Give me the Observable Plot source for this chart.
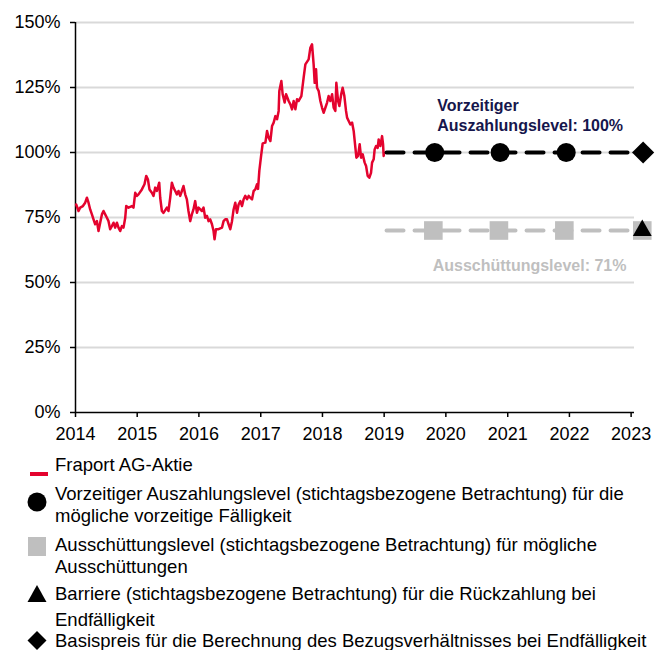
<!DOCTYPE html>
<html><head><meta charset="utf-8">
<script src="https://cdn.jsdelivr.net/npm/d3@7"></script>
<script src="https://cdn.jsdelivr.net/npm/@observablehq/plot@0.6"></script>
<style>
body{margin:0;background:#fff;font-family:"Liberation Sans",Arial,sans-serif;}
#legend{position:relative;width:666px;height:204px;font-size:18.5px;color:#000;}
.item{position:absolute;left:55px;line-height:22px;white-space:nowrap}
.icon{position:absolute;left:27px}
</style></head><body>
<div id="chart"></div>
<div id="legend"></div>
<script>
// Fraport AG share, relative level (%); time as decimal year
const stockYears = [2014.011,2014.049,2014.076,2014.120,2014.157,2014.185,2014.211,2014.238,2014.266,2014.292,2014.319,2014.347,2014.373,2014.400,2014.428,2014.454,2014.481,2014.509,2014.535,2014.562,2014.590,2014.616,2014.643,2014.671,2014.697,2014.724,2014.752,2014.778,2014.806,2014.822,2014.859,2014.914,2014.940,2014.968,2014.995,
2015.021,2015.076,2015.118,2015.146,2015.173,2015.199,2015.238,2015.264,2015.292,2015.319,2015.357,2015.373,2015.400,2015.426,2015.481,2015.507,2015.535,2015.562,2015.588,2015.616,2015.643,2015.669,2015.697,2015.724,2015.750,2015.778,2015.805,2015.831,2015.859,2015.886,2015.912,2015.940,2015.968,2015.994,
2016.049,2016.075,2016.102,2016.130,2016.156,2016.183,2016.211,2016.237,2016.253,2016.276,2016.318,2016.373,2016.399,2016.426,2016.454,2016.480,2016.507,2016.535,2016.561,2016.588,2016.616,2016.642,2016.670,2016.697,2016.723,2016.750,2016.778,2016.804,2016.831,2016.859,2016.885,2016.912,2016.940,2016.956,2016.977,
2017.002,2017.031,2017.075,2017.102,2017.128,2017.156,2017.183,2017.209,2017.237,2017.264,2017.290,2017.301,2017.334,2017.355,2017.387,2017.410,2017.452,2017.480,2017.507,2017.533,2017.561,2017.588,2017.614,2017.658,2017.695,2017.723,2017.776,2017.804,2017.831,2017.857,2017.874,2017.896,2017.912,2017.938,2017.966,2017.994,
2018.019,2018.047,2018.075,2018.100,2018.128,2018.156,2018.182,2018.209,2018.225,2018.253,2018.274,2018.306,2018.327,2018.355,2018.382,2018.399,2018.425,2018.452,2018.480,2018.506,2018.534,2018.550,2018.577,2018.603,2018.626,2018.652,2018.684,2018.707,2018.733,2018.760,2018.787,2018.804,2018.830,2018.846,2018.869,2018.895,2018.911,2018.938,2018.966,2018.982,2018.992,2018.998];
const stockValues = [80,77.5,78.8,79.4,80.7,82.6,80.7,78.1,76.2,74.3,72.4,73.6,69.8,73,76.2,77.5,76.2,74.9,73.6,70.5,71.7,73,71.1,73,71.1,69.8,71.7,71.1,74.9,79.4,78.8,79.4,78.8,84.5,83.3,
83.9,85.8,87.8,91,89.7,85.8,84.5,83.3,86.5,85.2,88.4,82.6,77.5,76.8,78.8,77.5,82.6,88.4,86.5,85.2,83.9,85.2,83.3,85.2,87.1,83.9,82,77.5,73.6,76.2,78.1,81.3,76.8,78.8,
77.5,78.8,74.9,75.6,73.6,74.3,72.4,69.8,66.6,70.5,70.5,71.1,73.6,74.3,74.3,72.4,70.5,73.6,78.1,80.7,76.8,80,81.3,79.4,82,83.3,82,83.3,82.6,82,85.2,85.8,87.8,86,93,
98,103.5,103.8,108.3,105.7,104.4,110.2,111.5,114,112.8,116,123.7,127.5,122.4,119.2,122.4,119.8,118.5,116.6,119.8,116.6,120.5,119.8,121.7,128.8,133.9,135.8,140.3,141.6,133.9,126.8,132,124.9,123.7,119.8,117.2,
115.3,117.2,119.2,121.7,119.8,122.4,117.2,116,126.8,119.8,117.9,122.7,124.9,121.7,116,113.4,112.1,110.8,111.5,108.3,101.8,98,98.7,103.2,98,99.3,96.1,94.8,91,90.3,92.2,96.1,97.4,101.2,102.5,101.8,105,102.5,106.3,103.2,98.7,99.9];

// Levels
const levelStart = "2019-01-15";
const finalDate = "2023-03-13";
const callLevel = 100;     // Vorzeitiger Auszahlungslevel
const payoutLevel = 70;    // Ausschüttungslevel (71 %)
const barrierLevel = 70;   // Barriere
const strikeLevel = 100;   // Basispreis
const callDates = ["2019-10-27","2020-11-17","2021-12-13"];
const payoutDates = ["2019-10-19","2020-11-10","2021-12-02","2023-03-08"];
const barrierDates = ["2023-03-08"];

const yearTicks = ["2014","2015","2016","2017","2018","2019","2020","2021","2022","2023"];
const yTicks = [0,25,50,75,100,125,150];

const labels = [
  {text:"Vorzeitiger\nAuszahlungslevel: 100%", date:"2019-11-11", value:114.5, color:"#16164c"},
  {text:"Ausschüttungslevel: 71%", date:"2019-10-15", value:57, color:"#bfbfbf"}
];

const legendItems = [
  "Fraport AG-Aktie",
  "Vorzeitiger Auszahlungslevel (stichtagsbezogene Betrachtung) für die|mögliche vorzeitige Fälligkeit",
  "Ausschüttungslevel (stichtagsbezogene Betrachtung) für mögliche|Ausschüttungen",
  "Barriere (stichtagsbezogene Betrachtung) für die Rückzahlung bei|Endfälligkeit",
  "Basispreis für die Berechnung des Bezugsverhältnisses bei Endfälligkeit"
];

const D = s => new Date(s + (s.length === 4 ? "-01-01" : "") + "T00:00:00Z");
const fromYear = t => {
  const y = Math.floor(t), a = Date.UTC(y,0,1), b = Date.UTC(y+1,0,1);
  return new Date(a + (t - y) * (b - a));
};
const stock = stockYears.map((t,i) => ({date: fromYear(t), value: stockValues[i]}));
const callLine = [{date:D(levelStart), value:callLevel},{date:D(finalDate), value:callLevel}];
const payoutLine = [{date:D(levelStart), value:payoutLevel},{date:D(barrierDates[0]), value:payoutLevel}];
const calls = callDates.map(d => ({date:D(d), value:callLevel}));
const payouts = payoutDates.map(d => ({date:D(d), value:payoutLevel}));
const barriers = barrierDates.map(d => ({date:D(d), value:barrierLevel}));
const strikes = [{date:D(finalDate), value:strikeLevel}];
const labelData = labels.map(l => ({...l, date:D(l.date)}));

const RED = "#e4032e", GRAY = "#bfbfbf";

const chart = Plot.plot({
  width: 666, height: 446,
  marginLeft: 75, marginRight: 32, marginTop: 22, marginBottom: 34,
  style: {fontFamily:'"Liberation Sans", Arial, sans-serif', fontSize:"18px", color:"#000", background:"#fff", overflow:"visible"},
  x: {type:"utc", domain:[D("2014"), D("2023-01-21")], label:null},
  y: {domain:[0,150], label:null},
  marks: [
    Plot.gridY(yTicks.filter(d => d > 0), {stroke:"#d9d9d9", strokeOpacity:1, strokeWidth:2}),
    Plot.axisY({ticks:yTicks, tickFormat:d => d + "%", tickSize:5, tickPadding:10, fontSize:18, strokeWidth:1.5, label:null}),
    Plot.axisX({ticks:yearTicks.map(D), tickFormat:d3.utcFormat("%Y"), tickSize:5, tickPadding:10, fontSize:18, strokeWidth:1.5, label:null}),
    Plot.ruleX([D("2014")], {y1:0, y2:150, stroke:"#000", strokeWidth:1.5}),
    Plot.ruleY([0], {stroke:"#000", strokeWidth:1.5}),
    Plot.line(stock, {x:"date", y:"value", stroke:RED, strokeWidth:2.5}),
    Plot.line(payoutLine, {x:"date", y:"value", stroke:GRAY, strokeWidth:4, strokeDasharray:"17,11"}),
    Plot.line(callLine, {x:"date", y:"value", stroke:"#000", strokeWidth:4, strokeDasharray:"17,11"}),
    Plot.dot(payouts, {x:"date", y:"value", symbol:"square", r:10.5, fill:GRAY}),
    Plot.dot(barriers, {x:"date", y:"value", symbol:"triangle", r:7, fill:"#000"}),
    Plot.dot(calls, {x:"date", y:"value", symbol:"circle", r:9.5, fill:"#000"}),
    Plot.dot(strikes, {x:"date", y:"value", symbol:"diamond2", r:10, fill:"#000"}),
    Plot.text(labelData, {x:"date", y:"value", text:"text", fill:"color", textAnchor:"start", lineAnchor:"middle", lineHeight:1.25, fontSize:16, fontWeight:"bold"})
  ]
});
document.getElementById("chart").appendChild(chart);

// Legend (HTML below the chart)
const icons = [
  {top:14, svg:'<svg width="22" height="5"><rect x="3" y="0" width="18" height="4" fill="'+RED+'"/></svg>'},
  {top:45, svg:'<svg width="22" height="22"><circle cx="10" cy="11" r="9.5" fill="#000"/></svg>'},
  {top:91, svg:'<svg width="22" height="22"><rect x="1" y="0" width="18" height="19" fill="'+GRAY+'"/></svg>'},
  {top:139, svg:'<svg width="22" height="20"><path d="M10,0 L19.5,17 L0.5,17 Z" fill="#000"/></svg>'},
  {top:185, svg:'<svg width="22" height="20"><path d="M10,0 L19.5,9.5 L10,19 L0.5,9.5 Z" fill="#000"/></svg>'}
];
const itemTops = [8, 37, 88, 137, 184];
const legend = document.getElementById("legend");
legendItems.forEach((t,i) => {
  const div = document.createElement("div");
  div.className = "item";
  div.style.top = itemTops[i] + "px";
  const lines = t.split("|");
  div.innerHTML = lines.map((l,j) => '<div style="' + (i===3 && j===1 ? 'margin-top:4px' : '') + '">' + l + '</div>').join("");
  legend.appendChild(div);
  const ic = document.createElement("div");
  ic.className = "icon";
  ic.style.top = icons[i].top + "px";
  ic.innerHTML = icons[i].svg;
  legend.appendChild(ic);
});
</script>
</body></html>
